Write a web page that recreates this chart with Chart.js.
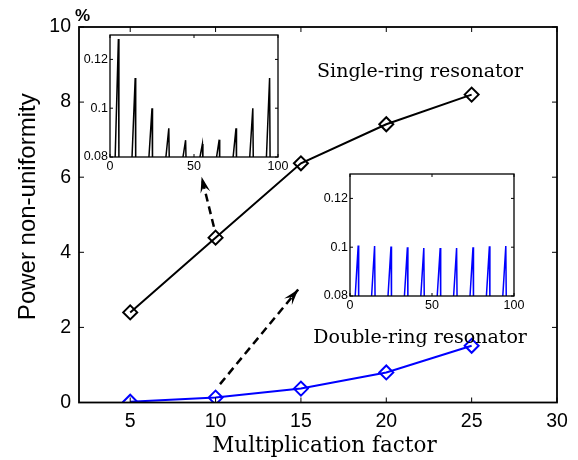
<!DOCTYPE html>
<html>
<head>
<meta charset="utf-8">
<script src="https://cdn.jsdelivr.net/npm/chart.js@4.4.1/dist/chart.umd.min.js"></script>
<style>
  html, body { margin: 0; padding: 0; background: #fff; }
  #wrap { position: relative; width: 578px; height: 460px; overflow: hidden; }
  canvas { position: absolute; }
</style>
</head>
<body>
<div id="wrap">
  <canvas id="main" width="578" height="460" style="left:0;top:0"></canvas>
  <canvas id="inset1" width="240" height="152" style="left:60px;top:25px"></canvas>
  <canvas id="inset2" width="240" height="152" style="left:300px;top:164px"></canvas>
</div>
<script>
// main plot data
const xTicks = [5, 10, 15, 20, 25, 30];
const yTicks = [0, 2, 4, 6, 8, 10];
const factor = [5, 10, 15, 20, 25];
const singleRing = [2.4, 4.39, 6.37, 7.41, 8.2];
const doubleRing = [0.02, 0.13, 0.37, 0.8, 1.51];

// dashed arrows (start, tip) in data units
const arrow1X = [9.9, 9.18];
const arrow1Y = [4.68, 6.01];
const arrow2X = [10.26, 14.84];
const arrow2Y = [0.49, 3.01];

// labels placed in data units (centre of the baseline)
const labelSingle = {text: "Single-ring resonator", x: 21.98, y: 8.66};
const labelDouble = {text: "Double-ring resonator", x: 21.98, y: 1.575};

const xTitle = "Multiplication factor";
const yTitle = "Power non-uniformity";

// inset data
const insetTicksX = [0, 50, 100];
const insetTicksY = [0.08, 0.1, 0.12];
const spikePos = [5, 15, 25, 35, 45, 55, 65, 75, 85, 95];
const singleSpikes = [0.1284, 0.1124, 0.1, 0.0918, 0.0869, 0.0853, 0.0871, 0.0918, 0.1, 0.1124];
const doubleSpikes = [0.1007, 0.1005, 0.1003, 0.1, 0.0997, 0.0997, 0.0997, 0.1, 0.1004, 0.1005];
const spikeBase = 0.078;

const sans = "'Liberation Sans', Arial, sans-serif";
const serif = "'DejaVu Serif', serif";

function pairs(xs, ys) {
  return xs.map((x, i) => ({x: x, y: ys[i]}));
}

function spikeLine(peaks) {
  let pts = [];
  spikePos.forEach((p, i) => {
    pts.push({x: p - 2, y: spikeBase});
    pts.push({x: p, y: peaks[i]});
    pts.push({x: p + 0.3, y: spikeBase});
  });
  return pts;
}

function fixTicks(values) {
  return function(scale) { scale.ticks = values.map(v => ({value: v})); };
}

// box round the plot area and the inward tick marks on all four sides
const frame = {
  id: 'frame',
  afterDraw(chart, args, opts) {
    const {ctx, chartArea: a, scales} = chart;
    const len = opts.tick;
    ctx.save();
    ctx.strokeStyle = '#000';
    ctx.lineWidth = opts.width;
    ctx.strokeRect(a.left, a.top, a.right - a.left, a.bottom - a.top);
    ctx.lineWidth = 1;
    ctx.beginPath();
    for (t of scales.x.ticks) {
      const px = scales.x.getPixelForValue(t.value);
      ctx.moveTo(px, a.bottom); ctx.lineTo(px, a.bottom - len);
      ctx.moveTo(px, a.top); ctx.lineTo(px, a.top + len);
    }
    for (t of scales.y.ticks) {
      const py = scales.y.getPixelForValue(t.value);
      ctx.moveTo(a.left, py); ctx.lineTo(a.left + len, py);
      ctx.moveTo(a.right, py); ctx.lineTo(a.right - len, py);
    }
    ctx.stroke();
    ctx.restore();
  }
};

const arrowHeads = {
  id: 'arrowHeads',
  afterDatasetsDraw(chart) {
    const ctx = chart.ctx;
    chart.data.datasets.forEach((ds, i) => {
      if (!ds.arrowHead) return;
      const pts = chart.getDatasetMeta(i).data;
      const a = pts[pts.length - 2], b = pts[pts.length - 1];
      const ang = Math.atan2(b.y - a.y, b.x - a.x);
      const len = 16, half = 5;
      ctx.save();
      ctx.translate(b.x, b.y);
      ctx.rotate(ang);
      ctx.fillStyle = ds.borderColor;
      ctx.beginPath();
      ctx.moveTo(0, 0);
      ctx.lineTo(-len, -half);
      ctx.lineTo(-len * 0.6, 0);
      ctx.lineTo(-len, half);
      ctx.closePath();
      ctx.fill();
      ctx.restore();
    });
  }
};

const notes = {
  id: 'notes',
  afterDraw(chart) {
    const {ctx, chartArea: a, scales} = chart;
    ctx.save();
    ctx.fillStyle = '#000';
    ctx.textAlign = 'center';
    ctx.textBaseline = 'alphabetic';
    ctx.font = "19px " + serif;
    for (l of [labelSingle, labelDouble]) {
      ctx.fillText(l.text, scales.x.getPixelForValue(l.x), scales.y.getPixelForValue(l.y));
    }
    // axis titles
    ctx.font = "21.5px " + serif;
    ctx.fillText(xTitle, (a.left + a.right) / 2 + 6.5, a.bottom + 49.5);
    ctx.save();
    ctx.translate(a.left - 44, (a.top + a.bottom) / 2 - 8);
    ctx.rotate(-Math.PI / 2);
    ctx.font = "24px " + sans;
    ctx.fillText(yTitle, 0, 0);
    ctx.restore();
    ctx.font = "bold 17px " + sans;
    ctx.textAlign = 'left';
    ctx.textBaseline = 'middle';
    ctx.fillText("%", a.left - 4, a.top - 11);
    ctx.restore();
  }
};

new Chart("main", {
  type: "line",
  data: {
    datasets: [{
      label: "Single-ring resonator",
      data: pairs(factor, singleRing),
      borderColor: '#000', backgroundColor: 'rgba(0,0,0,0)',
      borderWidth: 2, pointStyle: 'rectRot', pointRadius: 7,
      pointBorderWidth: 2, tension: 0,
    }, {
      label: "Double-ring resonator",
      data: pairs(factor, doubleRing),
      borderColor: '#0000ff', backgroundColor: 'rgba(0,0,0,0)',
      borderWidth: 2, pointStyle: 'rectRot', pointRadius: 7,
      pointBorderWidth: 2, tension: 0,
    }, {
      label: "arrow1",
      data: pairs(arrow1X, arrow1Y),
      borderColor: '#000', borderWidth: 2.5, borderDash: [8, 5],
      pointRadius: 0, arrowHead: true,
    }, {
      label: "arrow2",
      data: pairs(arrow2X, arrow2Y),
      borderColor: '#000', borderWidth: 2.5, borderDash: [8, 5],
      pointRadius: 0, arrowHead: true,
    }]
  },
  options: {
    responsive: false,
    animation: false,
    events: [],
    layout: {padding: {top: 27, right: 21, left: 0, bottom: 0}},
    plugins: {
      legend: {display: false},
      tooltip: {enabled: false},
      frame: {width: 1.8, tick: 5},
    },
    scales: {
      x: {
        type: 'linear', min: 2, max: 30,
        afterBuildTicks: fixTicks(xTicks),
        afterFit: s => { s.height = 57.5; s.paddingLeft = 0; s.paddingRight = 0; },
        grid: {display: false, drawTicks: false},
        border: {display: false},
        ticks: {color: '#000', font: {family: sans, size: 19.5}, padding: 7, maxRotation: 0, autoSkip: false},
      },
      y: {
        type: 'linear', min: 0, max: 10,
        afterBuildTicks: fixTicks(yTicks),
        afterFit: s => { s.width = 79; },
        grid: {display: false, drawTicks: false},
        border: {display: false},
        ticks: {color: '#000', font: {family: sans, size: 19.5}, padding: 8},
      },
    },
  },
  plugins: [frame, arrowHeads, notes],
});

function makeInset(id, peaks, color, padRight) {
  new Chart(id, {
    type: "line",
    data: {
      datasets: [{
        data: spikeLine(peaks),
        borderColor: color, borderWidth: 1.5,
        pointRadius: 0, tension: 0, clip: 0,
      }]
    },
    options: {
      responsive: false,
      animation: false,
      events: [],
      layout: {padding: {top: 10, right: padRight, left: 0, bottom: 0}},
      plugins: {
        legend: {display: false},
        tooltip: {enabled: false},
        frame: {width: 1.3, tick: 3},
      },
      scales: {
        x: {
          type: 'linear', min: 0, max: 100,
          afterBuildTicks: fixTicks(insetTicksX),
          afterFit: s => { s.height = 20; s.paddingLeft = 0; s.paddingRight = 0; },
          grid: {display: false, drawTicks: false},
          border: {display: false},
          ticks: {color: '#000', font: {family: sans, size: 12.5}, padding: 2, maxRotation: 0, autoSkip: false},
        },
        y: {
          type: 'linear', min: 0.08, max: 0.13,
          afterBuildTicks: fixTicks(insetTicksY),
          afterFit: s => { s.width = 50; },
          grid: {display: false, drawTicks: false},
          border: {display: false},
          ticks: {color: '#000', font: {family: sans, size: 12.5}, padding: 2,
                  callback: v => String(+v.toFixed(2))},
        },
      },
    },
    plugins: [frame],
  });
}

makeInset("inset1", singleSpikes, '#000', 22);
makeInset("inset2", doubleSpikes, '#0000ff', 26);
</script>
</body>
</html>
